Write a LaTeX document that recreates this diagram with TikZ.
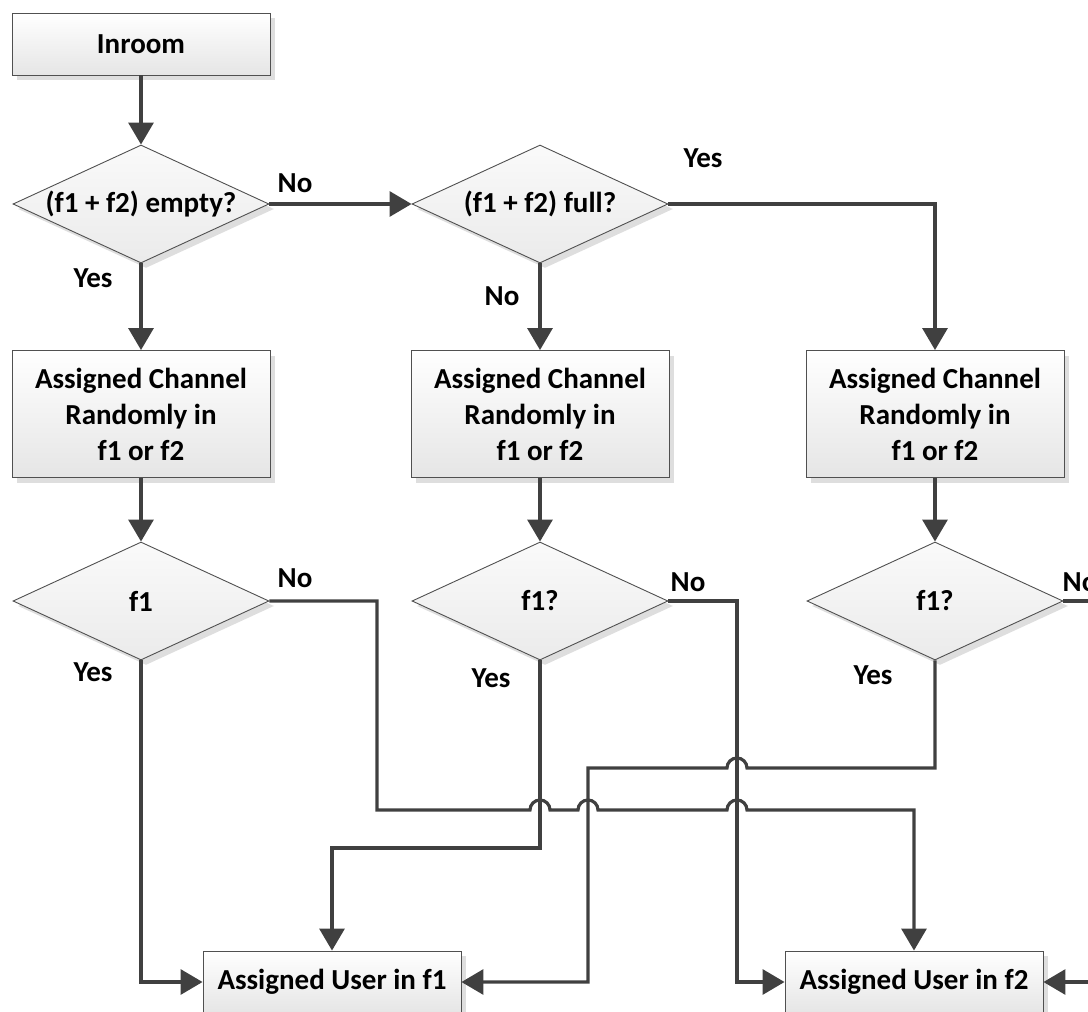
\documentclass[tikz,border=0pt]{standalone}
\usepackage{fontspec}
\setmainfont{Carlito}
\usetikzlibrary{arrows.meta,shapes.geometric,shadows}

\definecolor{wirecol}{HTML}{404040}
\definecolor{edgecol}{HTML}{505050}
\definecolor{shadecol}{HTML}{DEDEDE}

\tikzset{
  txt/.style={font=\bfseries\fontsize{29}{36}\selectfont},
  base/.style={txt, draw=edgecol, line width=0.9pt,
    top color=white, bottom color=white!90!black,
    align=center, inner sep=0pt,
    drop shadow={shadow xshift=5pt, shadow yshift=-5pt, fill=shadecol, opacity=1}},
  procbox/.style={base, rectangle, minimum width=258pt},
  test/.style={base, diamond, aspect=1, minimum width=256pt, minimum height=118pt,
    top color=white!98!black, bottom color=white!92!black},
  link/.style={draw=wirecol, line width=3.2pt, line join=miter},
  flow/.style={link, -{Triangle[length=22pt,width=25pt]}},
  lbl/.style={txt, inner sep=0pt}
}

\begin{document}
\begin{tikzpicture}[x=1pt,y=1pt]
\useasboundingbox (0,0) rectangle (1088,-1012);
\clip (0,0) rectangle (1088,-1012);

% process boxes
\node[procbox, minimum height=62pt] (inroom) at (141,-44) {Inroom};
\node[procbox, minimum height=127pt] (c1) at (141,-414) {Assigned Channel\\Randomly in\\f1 or f2};
\node[procbox, minimum height=127pt] (c2) at (540,-414) {Assigned Channel\\Randomly in\\f1 or f2};
\node[procbox, minimum height=127pt] (c3) at (935,-414) {Assigned Channel\\Randomly in\\f1 or f2};
\node[procbox, minimum height=62pt] (u1) at (332,-982) {Assigned User in f1};
\node[procbox, minimum height=62pt] (u2) at (914,-982) {Assigned User in f2};

% decisions
\node[test] (d1) at (141,-204) {\makebox[0pt]{(f1 + f2) empty?}};
\node[test] (d2) at (540,-204) {\makebox[0pt]{(f1 + f2) full?}};
\node[test] (q1) at (141,-601) {\makebox[0pt]{f1}};
\node[test] (q2) at (540,-601) {\makebox[0pt]{f1?}};
\node[test] (q3) at (935,-601) {\makebox[0pt]{f1?}};

% upper flow
\draw[flow] (inroom) -- (d1);
\draw[flow] (d1) -- (d2);
\draw[flow] (d1) -- (c1);
\draw[flow] (d2) -- (c2);
\draw[flow] (d2.east) -| (c3.north);
\draw[flow] (c1) -- (q1);
\draw[flow] (c2) -- (q2);
\draw[flow] (c3) -- (q3);

% lower flow, with hops where lines cross
\draw[flow] (q1.south) |- (u1.west);
\draw[flow] (q1.east) -- (377,-601) -- (377,-810)
  -- (530,-810) arc[start angle=180,end angle=0,radius=10]
  -- (578,-810) arc[start angle=180,end angle=0,radius=10]
  -- (727,-810) arc[start angle=180,end angle=0,radius=10]
  -- (914,-810) -- (u2.north);
\draw[flow] (q2.south) -- (540,-848) -| (u1.north);
\draw[flow] (q2.east) -- (737,-601) |- (u2.west);
\draw[flow] (q3.south) -- (935,-768)
  -- (747,-768) arc[start angle=0,end angle=180,radius=10]
  -- (588,-768) |- (u1.east);
\draw[flow] (q3.east) -- (1110,-601) |- (u2.east);

% branch labels
\node[lbl] (l1) at (295,-183) {No};
\node[lbl] (l2) at (93,-278) {Yes};
\node[lbl] (l3) at (703,-158) {Yes};
\node[lbl] (l4) at (502,-296) {No};
\node[lbl] (l5) at (295,-578) {No};
\node[lbl] (l6) at (93,-672) {Yes};
\node[lbl] (l7) at (688,-582) {No};
\node[lbl] (l8) at (491,-678) {Yes};
\node[lbl] (l9) at (1080,-582) {No};
\node[lbl] (l10) at (873,-675) {Yes};
\end{tikzpicture}
\end{document}
